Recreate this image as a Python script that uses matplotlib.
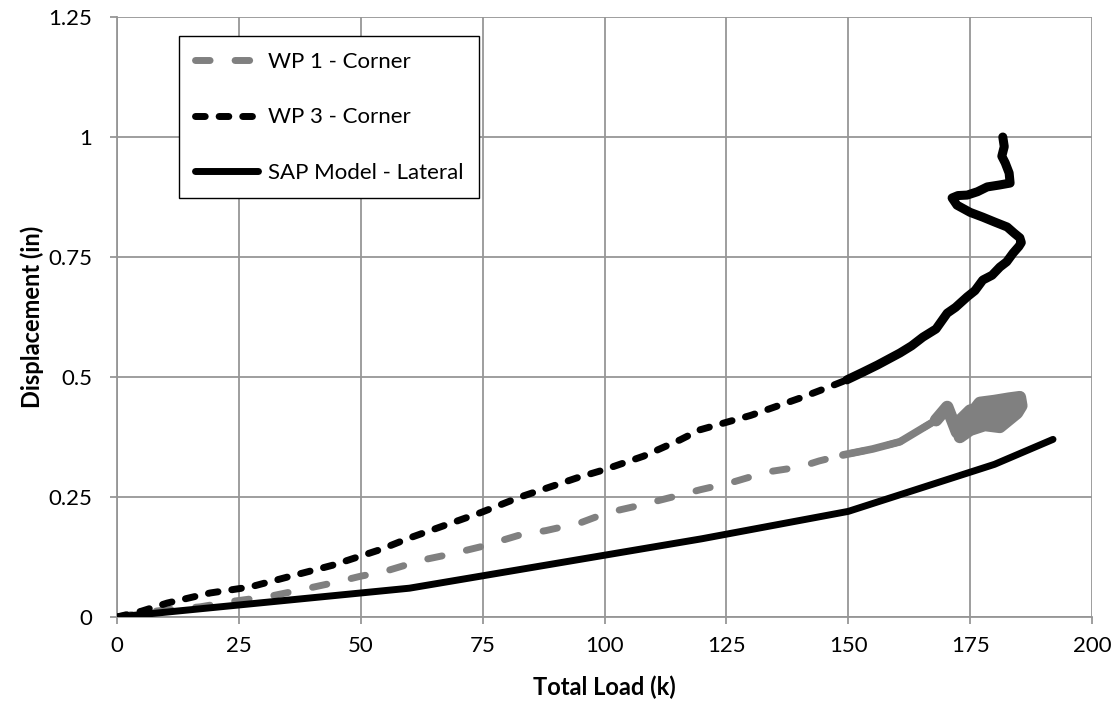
import matplotlib.pyplot as plt

plt.rcParams['font.family'] = ['Lato', 'DejaVu Sans']

# WP 1 - Corner (gray dashed)
wp1_load = [0, 5, 10, 17, 24, 30.8, 37, 44.3, 50, 54.6, 62.8, 68, 74.5, 82.7, 88, 95,
            100.5, 107, 115.5, 119.6, 126, 133.3, 140.1, 144, 148.9, 155, 160.6, 164.7,
            168, 170.3, 172.3, 175, 177, 180, 183, 185.2, 185.5, 184.6, 181.1, 178,
            175, 172.9, 174, 177, 180, 183, 185, 182, 178, 175, 173, 176, 180, 184]
wp1_disp = [0, 0.008, 0.015, 0.021, 0.033, 0.042, 0.055, 0.071, 0.085, 0.094, 0.119, 0.13,
            0.146, 0.171, 0.18, 0.196, 0.217, 0.232, 0.254, 0.265, 0.28, 0.302, 0.3125,
            0.325, 0.3375, 0.35, 0.365, 0.39, 0.41, 0.4375, 0.385, 0.42, 0.446, 0.45,
            0.455, 0.458, 0.44, 0.425, 0.396, 0.40, 0.39, 0.375, 0.40, 0.42, 0.43, 0.44,
            0.45, 0.445, 0.435, 0.43, 0.41, 0.405, 0.415, 0.43]

# WP 3 - Corner (black dashed)
wp3_load = [0, 5, 10.3, 19.1, 27.3, 34.9, 44.3, 53.9, 60.1, 67, 74.5, 82.7, 88, 94.4,
            99.7, 108, 115.5, 119.6, 130, 140.1, 145, 149.7, 153, 156, 160.6, 163,
            165.3, 168, 170.3, 172, 174.4, 176, 177.6, 179.5, 181.1, 182.5, 183.8, 185,
            185.5, 185.2, 184, 182.6, 180, 177.6, 175, 172.3, 171.3, 172.5, 174.4,
            176.5, 178.5, 181, 183.2, 183, 182.2, 181.5, 182, 181.7]
wp3_disp = [0, 0.012, 0.029, 0.05, 0.0625, 0.083, 0.108, 0.14, 0.165, 0.19, 0.217, 0.25,
            0.268, 0.29, 0.306, 0.335, 0.369, 0.39, 0.42, 0.456, 0.475, 0.494, 0.51,
            0.525, 0.55, 0.565, 0.583, 0.6, 0.633, 0.645, 0.667, 0.68, 0.702, 0.712,
            0.729, 0.74, 0.758, 0.772, 0.78, 0.79, 0.8, 0.8125, 0.823, 0.833, 0.843,
            0.858, 0.873, 0.878, 0.879, 0.886, 0.896, 0.9, 0.904, 0.925, 0.946, 0.96,
            0.98, 1.0]

# SAP Model - Lateral (black solid)
sap_load = [0, 60, 120, 150, 180, 192]
sap_disp = [0, 0.06, 0.163, 0.22, 0.318, 0.37]

x_ticks = [0, 25, 50, 75, 100, 125, 150, 175, 200]
y_ticks = [0, 0.25, 0.5, 0.75, 1, 1.25]
y_labels = ['0', '0.25', '0.5', '0.75', '1', '1.25']

# where the logged data gets noisy and the dashes run together
wp1_noisy = 24
wp1_blob = 28
wp3_noisy = 21

fig = plt.figure(figsize=(11.2, 7.09), dpi=100)
ax = fig.add_axes([0.1045, 0.1298, 0.8705, 0.8462])

lw = 5
ax.plot(wp1_load, wp1_disp, color='#808080', lw=lw, dashes=(2.1, 3.6),
        dash_capstyle='round', label='WP 1 - Corner', zorder=3)
ax.plot(wp1_load[wp1_noisy:], wp1_disp[wp1_noisy:], color='#808080', lw=lw + 0.5,
        solid_capstyle='round', solid_joinstyle='round', zorder=3)
ax.plot(wp1_load[wp1_blob:], wp1_disp[wp1_blob:], color='#808080', lw=lw + 4,
        solid_capstyle='round', solid_joinstyle='round', zorder=3)
ax.plot(wp3_load, wp3_disp, color='black', lw=lw, dashes=(1.4, 2.0),
        dash_capstyle='round', label='WP 3 - Corner', zorder=4)
ax.plot(wp3_load[wp3_noisy:], wp3_disp[wp3_noisy:], color='black', lw=lw + 1.5,
        solid_capstyle='round', solid_joinstyle='round', zorder=4)
ax.plot(sap_load, sap_disp, color='black', lw=lw, solid_capstyle='round',
        label='SAP Model - Lateral', zorder=5)

ax.set_xlim(0, 200)
ax.set_ylim(0, 1.25)
ax.set_xticks(x_ticks)
ax.set_yticks(y_ticks)
ax.set_yticklabels(y_labels)
ax.grid(True, color='#969696', lw=1.3)
ax.set_axisbelow(True)
for s in ['top', 'right']:
    ax.spines[s].set_visible(False)
for s in ['left', 'bottom']:
    ax.spines[s].set_color('#969696')
    ax.spines[s].set_linewidth(1.3)
ax.tick_params(direction='out', length=5, width=1.3, color='#969696', labelsize=16)
ax.tick_params(axis='x', pad=9)
ax.tick_params(axis='y', pad=13)

ax.set_xlabel('Total Load (k)', fontsize=17, fontweight='bold', va='center')
ax.set_ylabel('Displacement (in)', fontsize=17, fontweight='bold', va='center')
ax.xaxis.set_label_coords(0.5, -0.118)
ax.yaxis.set_label_coords(-0.087, 0.5)

leg = ax.legend(loc='upper left', bbox_to_anchor=(0.0636, 0.968), borderaxespad=0,
                fontsize=16, frameon=True, fancybox=False, edgecolor='black',
                framealpha=1, handlelength=2.85, labelspacing=1.6, borderpad=0.7,
                handletextpad=0.45)
leg.get_frame().set_linewidth(1.0)

fig.savefig('out.png', dpi=100)
